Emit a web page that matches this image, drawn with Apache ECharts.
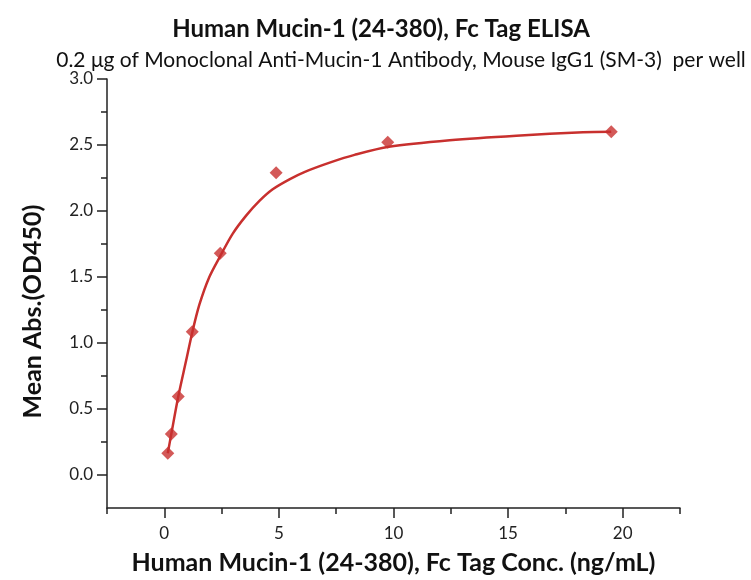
<!DOCTYPE html>
<html>
<head>
<meta charset="utf-8">
<script src="https://cdn.jsdelivr.net/npm/echarts@6/dist/echarts.min.js"></script>
<style>html,body{margin:0;padding:0;background:#fff}#c{width:751px;height:580px}</style>
</head>
<body>
<div id="c"></div>
<script>
// Measured points
const conc = [19.5, 9.75, 4.88, 2.44, 1.22, 0.61, 0.305, 0.152];
const od = [2.60, 2.52, 2.29, 1.68, 1.085, 0.595, 0.31, 0.165];
// Fitted curve
const fitX = [0.152, 0.305, 0.61, 0.95, 1.22, 1.53, 1.965, 2.445, 2.98, 3.57, 4.15, 4.73, 5.46, 6.11, 7.28, 8.30, 9.8, 12.45, 15.36, 18.27, 19.5];
const fitY = [0.165, 0.31, 0.595, 0.865, 1.08, 1.29, 1.50, 1.66, 1.827, 1.965, 2.077, 2.165, 2.24, 2.295, 2.37, 2.425, 2.486, 2.536, 2.571, 2.596, 2.60];
// Ticks
const xMajor = [0, 5, 10, 15, 20];
const xMinor = [-2.5, 2.5, 7.5, 12.5, 17.5, 22.5];
const yMajor = [0, 0.5, 1.0, 1.5, 2.0, 2.5, 3.0];
const yMinor = [0.25, 0.75, 1.25, 1.75, 2.25, 2.75];

const RED = '#C8302E';
const FONT = 'Lato';
const INK = '#222';
const chart = echarts.init(document.getElementById('c'), null, {renderer: 'canvas'});
const tickAxis = (min, max, pos, vals, len) => ({
  type: 'value', min: min, max: max, position: pos,
  axisLine: {show: false, onZero: false}, splitLine: {show: false},
  axisTick: {show: true, length: len, customValues: vals, lineStyle: {color: INK, width: 1.5}},
  axisLabel: {show: false}
});
chart.setOption({
  animation: false,
  textStyle: {fontFamily: FONT},
  title: [
    {text: 'Human Mucin-1 (24-380), Fc Tag ELISA', left: 376, textAlign: 'center', top: 12,
     textStyle: {fontFamily: FONT, fontWeight: 'bold', fontSize: 24, color: '#111'}},
    {text: '0.2 μg of Monoclonal Anti-Mucin-1 Antibody, Mouse IgG1 (SM-3)  per well', left: 396, textAlign: 'center', top: 45,
     textStyle: {fontFamily: FONT, fontWeight: 'normal', fontSize: 21, color: '#111'}}
  ],
  grid: {left: 107, right: 71, top: 79, bottom: 68, containLabel: false},
  xAxis: [
    {type: 'value', min: -2.5, max: 22.5, position: 'bottom',
     axisLine: {show: true, onZero: false, lineStyle: {color: INK, width: 1.5}}, splitLine: {show: false},
     axisTick: {show: false},
     axisLabel: {customValues: xMajor, fontFamily: FONT, fontSize: 17, color: INK, margin: 17},
     name: 'Human Mucin-1 (24-380), Fc Tag Conc. (ng/mL)', nameLocation: 'middle', nameGap: 42,
     nameTextStyle: {fontFamily: FONT, fontWeight: 'bold', fontSize: 25, color: '#111'}},
    tickAxis(-2.5, 22.5, 'bottom', xMajor, 10),
    tickAxis(-2.5, 22.5, 'bottom', xMinor, 6)
  ],
  yAxis: [
    {type: 'value', min: -0.25, max: 3.0, position: 'left',
     axisLine: {show: true, onZero: false, lineStyle: {color: INK, width: 1.5}}, splitLine: {show: false},
     axisTick: {show: false},
     axisLabel: {customValues: yMajor, fontFamily: FONT, fontSize: 17, color: INK, margin: 14,
       formatter: v => v.toFixed(1)},
     name: 'Mean Abs.(OD450)', nameLocation: 'middle', nameGap: 62,
     nameTextStyle: {fontFamily: FONT, fontWeight: 'bold', fontSize: 25, color: '#111', padding: [0, 36, 0, 0]}},
    tickAxis(-0.25, 3.0, 'left', yMajor, 10),
    tickAxis(-0.25, 3.0, 'left', yMinor, 6)
  ],
  series: [
    {type: 'line', data: fitX.map((x, i) => [x, fitY[i]]), showSymbol: false, symbol: 'none',
     smooth: 0.3, lineStyle: {color: RED, width: 2.5}, z: 2},
    {type: 'scatter', data: conc.map((x, i) => [x, od[i]]), symbol: 'diamond', symbolSize: 13,
     itemStyle: {color: RED}, z: 3}
  ]
});
</script>
</body>
</html>
